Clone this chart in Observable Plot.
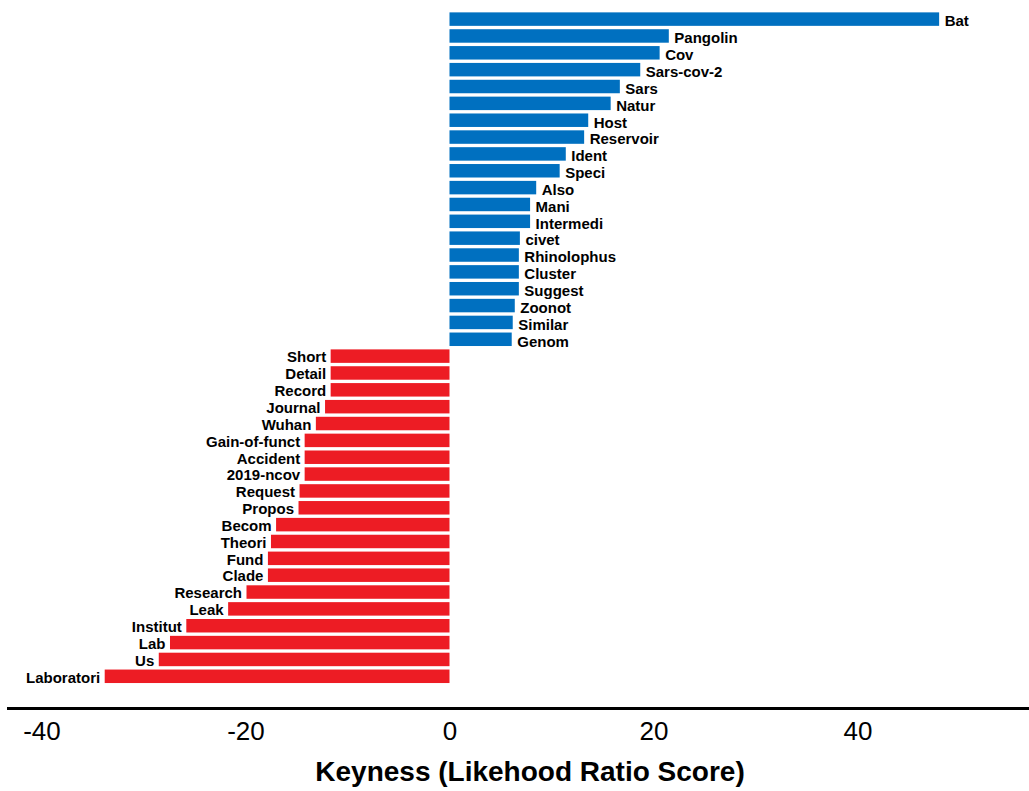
<!DOCTYPE html>
<html><head><meta charset="utf-8">
<script src="https://cdn.jsdelivr.net/npm/d3@7"></script>
<script src="https://cdn.jsdelivr.net/npm/@observablehq/plot@0.6"></script>
<style>body{margin:0;background:#fff}</style>
</head><body><div id="chart"></div>
<script>
const posTerms = ["Bat","Pangolin","Cov","Sars-cov-2","Sars","Natur","Host","Reservoir","Ident","Speci","Also","Mani","Intermedi","civet","Rhinolophus","Cluster","Suggest","Zoonot","Similar","Genom"];
const posValues = [48.0,21.5,20.6,18.7,16.7,15.8,13.6,13.2,11.4,10.8,8.5,7.9,7.9,6.9,6.8,6.8,6.8,6.4,6.2,6.1];
const negTerms = ["Short","Detail","Record","Journal","Wuhan","Gain-of-funct","Accident","2019-ncov","Request","Propos","Becom","Theori","Fund","Clade","Research","Leak","Institut","Lab","Us","Laboratori"];
const negValues = [-11.65,-11.65,-11.65,-12.2,-13.1,-14.2,-14.2,-14.2,-14.7,-14.8,-17.0,-17.5,-17.8,-17.8,-19.9,-21.7,-25.8,-27.4,-28.5,-33.8];
const xTicks = [-40,-20,0,20,40];
const xLabel = ["Keyness (Likehood Ratio Score)"];
const groups = ["pos","neg"];
const colors = ["#0070C0","#ED1C24"];

const posRows = posTerms.map((t,i)=>({term:t, value:posValues[i], group:"pos"}));
const negRows = negTerms.map((t,i)=>({term:t, value:negValues[i], group:"neg"}));
const rows = posRows.concat(negRows);

const chart = Plot.plot({
  width: 1029, height: 791,
  marginTop: 9, marginBottom: 83, marginLeft: 8, marginRight: 0,
  style: {fontFamily: "'Liberation Sans', Arial, sans-serif", background: "#fff", color: "#000"},
  x: {domain: [-43.28, 56.81], label: null},
  y: {domain: rows.map(d => d.term), padding: 0.2, insetBottom: 21.6, axis: null, label: null},
  color: {domain: groups, range: colors},
  marks: [
    Plot.barX(rows, {x: "value", y: "term", fill: "group"}),
    Plot.text(posRows, {x: "value", y: "term", text: "term", textAnchor: "start", dx: 5, dy: 2, fontWeight: "bold", fontSize: 15, fill: "#000"}),
    Plot.text(negRows, {x: "value", y: "term", text: "term", textAnchor: "end", dx: -5, dy: 1, fontWeight: "bold", fontSize: 15, fill: "#000"}),
    Plot.frame({anchor: "bottom", stroke: "#000", strokeWidth: 3}),
    Plot.axisX({ticks: xTicks, tickSize: 0, tickPadding: 13, fontSize: 26, label: null, tickFormat: d => String(d)}),
    Plot.text(xLabel, {frameAnchor: "bottom", text: d => d, dy: 72, dx: 11, fontWeight: "bold", fontSize: 28, fill: "#000"})
  ]
});
document.getElementById("chart").appendChild(chart);
</script>
</body></html>
